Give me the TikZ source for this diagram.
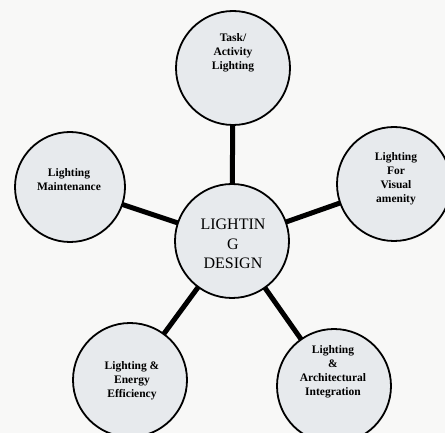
\documentclass[tikz,border=0pt]{standalone}
\usepackage{fontspec}
\setmainfont{Liberation Serif}
\usetikzlibrary{backgrounds}
\definecolor{bubblefill}{RGB}{231,234,237}
\definecolor{paper}{RGB}{248,248,247}
\begin{document}
\begin{tikzpicture}[x=1pt,y=-1pt,
  bubble/.style={circle,draw=black,line width=1.8pt,fill=bubblefill,minimum size=114pt,inner sep=0pt},
  small/.style={align=center,font=\fontsize{11.5}{14}\selectfont\bfseries},
  big/.style={align=center,font=\fontsize{16}{19.5}\selectfont},
  link/.style={line width=5pt}]
\useasboundingbox (0,0) rectangle (445,433);
\clip (0,0) rectangle (445,433);
\node[bubble] (c0) at (232,241) {};
\node[bubble] (c1) at (233,68) {};
\node[bubble,minimum size=110pt] (c2) at (70,187) {};
\node[bubble] (c3) at (394,184) {};
\node[bubble] (c4) at (130,380) {};
\node[bubble] (c5) at (334,386) {};
\node[big] (t0) at (233,244) {LIGHTIN\\G\\DESIGN};
\node[small] (t1) at (233,53) {Task/\\Activity\\Lighting};
\node[small] (t2) at (69,180) {Lighting\\Maintenance};
\node[small] (t3) at (396,179) {Lighting\\For\\Visual\\amenity};
\node[small] (t4) at (132,381) {Lighting \&\\Energy\\Efficiency};
\node[small] (t5) at (333,372) {Lighting\\\&\\Architectural\\Integration};
\begin{pgfonlayer}{background}
\fill[paper] (0,0) rectangle (445,433);
\draw[link] (c0.center) -- (c1.center);
\draw[link] (c0.center) -- (c2.center);
\draw[link] (c0.center) -- (c3.center);
\draw[link] (c0.center) -- (c4.center);
\draw[link] (c0.center) -- (c5.center);
\end{pgfonlayer}
\end{tikzpicture}
\end{document}
